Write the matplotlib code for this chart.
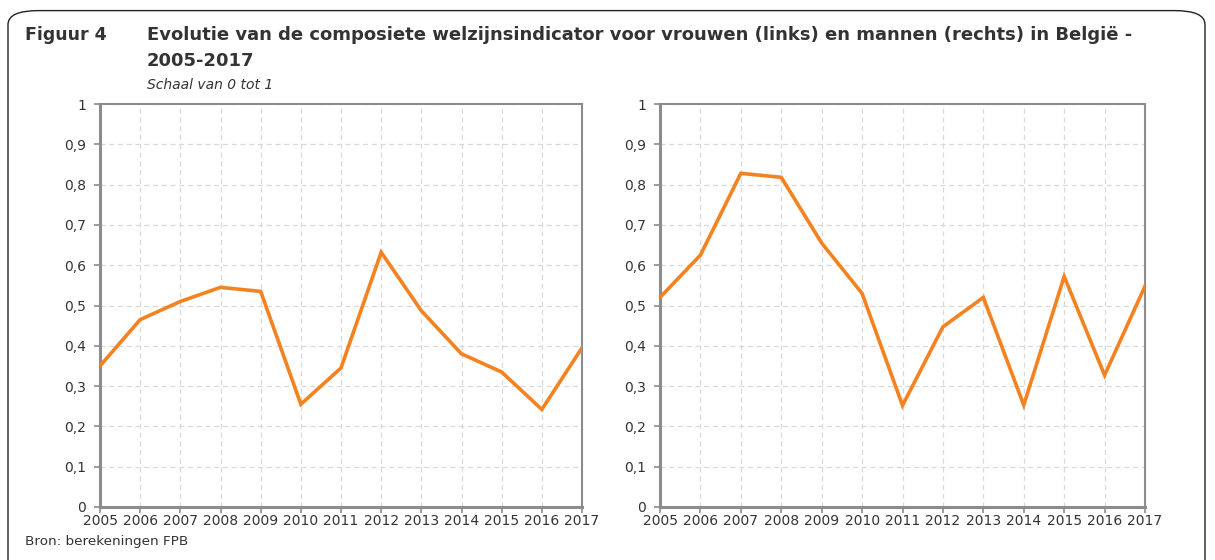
import matplotlib
matplotlib.use('Agg')
import matplotlib.pyplot as plt
from matplotlib.patches import FancyBboxPatch
from matplotlib.ticker import FuncFormatter

years = list(range(2005, 2018))
vrouwen = [0.35, 0.465, 0.51, 0.545, 0.535, 0.255, 0.345, 0.632, 0.487, 0.38, 0.335, 0.242, 0.395]
mannen = [0.52, 0.625, 0.828, 0.818, 0.655, 0.53, 0.252, 0.447, 0.52, 0.253, 0.572, 0.327, 0.548]
yticks = [0, 0.1, 0.2, 0.3, 0.4, 0.5, 0.6, 0.7, 0.8, 0.9, 1]

plt.rcParams['font.family'] = 'DejaVu Sans'
txt = '#333333'
orange = '#F58220'
spine = '#8c8c8c'

fig = plt.figure(figsize=(12.15, 5.6), dpi=100)
W, H = 1215, 560

# outer rounded frame
fig.patches.append(FancyBboxPatch((8/W, -0.05), 1197/W, (555-0)/H + 0.04,
                                  boxstyle='round,pad=0,rounding_size=0.025',
                                  transform=fig.transFigure, fill=False,
                                  edgecolor='#222222', linewidth=1.0))

fig.text(25/W, 1 - 35/H, 'Figuur 4', fontsize=12.5, fontweight='bold', color=txt, va='center')
fig.text(147/W, 1 - 35/H, 'Evolutie van de composiete welzijnsindicator voor vrouwen (links) en mannen (rechts) in België -',
         fontsize=12.95, fontweight='bold', color=txt, va='center')
fig.text(147/W, 1 - 61/H, '2005-2017', fontsize=12.95, fontweight='bold', color=txt, va='center')
fig.text(147/W, 1 - 85/H, 'Schaal van 0 tot 1', fontsize=10, style='italic', color=txt, va='center')
fig.text(25/W, 1 - 541/H, 'Bron: berekeningen FPB', fontsize=9.7, color=txt, va='center')

def fmt(v, pos):
    if v == 0 or v == 1:
        return '%d' % v
    return ('%.1f' % v).replace('.', ',')

boxes = [(100, 582), (660, 1145)]
for (x0, x1), data in zip(boxes, [vrouwen, mannen]):
    ax = fig.add_axes([x0/W, 1 - 507/H, (x1 - x0)/W, (507 - 104)/H])
    ax.plot(years, data, color=orange, linewidth=2.6, solid_joinstyle='miter', zorder=3)
    ax.set_xlim(2005, 2017)
    ax.set_ylim(0, 1)
    ax.set_xticks(years)
    ax.set_yticks(yticks)
    ax.yaxis.set_major_formatter(FuncFormatter(fmt))
    ax.grid(True, color='#d9d9d9', linestyle=(0, (4, 3)), linewidth=0.9)
    ax.set_axisbelow(True)
    for s in ['left', 'bottom']:
        ax.spines[s].set_color(spine)
        ax.spines[s].set_linewidth(2.2)
    for s in ['top', 'right']:
        ax.spines[s].set_color(spine)
        ax.spines[s].set_linewidth(1.5)
    ax.tick_params(axis='both', colors=spine, labelcolor=txt, labelsize=10, length=4, width=1.2)
    ax.tick_params(axis='x', pad=1)
    ax.tick_params(axis='y', pad=6)

fig.savefig('out.png', dpi=100)
